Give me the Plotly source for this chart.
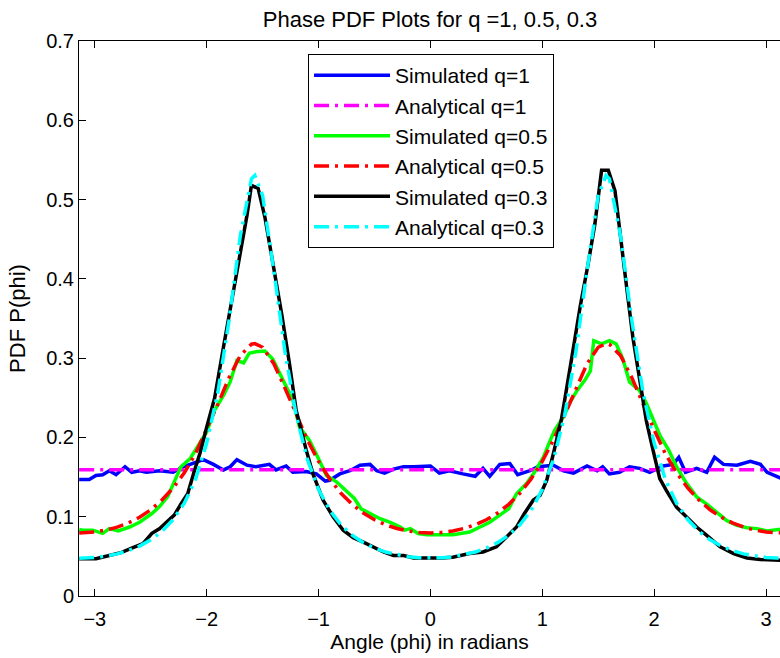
import plotly.graph_objects as go

# ---------------- data ----------------
phi_sim1 = [-3.14, -3.05, -2.99, -2.93, -2.87, -2.81, -2.73, -2.67, -2.60, -2.54, -2.42, -2.30,
            -2.21, -2.12, -2.03, -1.94, -1.85, -1.79, -1.73, -1.64, -1.56, -1.44, -1.38, -1.29,
            -1.23, -1.11, -1.02, -0.94, -0.90, -0.81, -0.72, -0.63, -0.54, -0.48, -0.41, -0.33,
            -0.24, -0.15, -0.07, 0.00, 0.08, 0.17, 0.29, 0.40, 0.47, 0.53, 0.62, 0.71, 0.78,
            0.89, 0.96, 1.10, 1.19, 1.28, 1.40, 1.49, 1.54, 1.60, 1.69, 1.78, 1.87, 1.96, 2.08,
            2.17, 2.22, 2.28, 2.38, 2.47, 2.54, 2.62, 2.74, 2.86, 2.95, 3.01, 3.11, 3.14]
sim_q1 = [0.147, 0.147, 0.152, 0.153, 0.158, 0.153, 0.163, 0.156, 0.158, 0.156, 0.158, 0.156,
          0.163, 0.167, 0.172, 0.166, 0.159, 0.163, 0.172, 0.165, 0.163, 0.166, 0.159, 0.164,
          0.156, 0.157, 0.154, 0.145, 0.146, 0.154, 0.158, 0.165, 0.166, 0.158, 0.155, 0.160,
          0.163, 0.163, 0.163, 0.164, 0.155, 0.158, 0.154, 0.151, 0.161, 0.151, 0.166, 0.167,
          0.153, 0.158, 0.163, 0.165, 0.158, 0.155, 0.164, 0.158, 0.163, 0.154, 0.156, 0.163,
          0.161, 0.156, 0.164, 0.166, 0.175, 0.156, 0.161, 0.156, 0.175, 0.166, 0.165, 0.170,
          0.166, 0.156, 0.150, 0.148]

phi_sim05 = [-3.14, -3.11, -3.02, -2.93, -2.87, -2.79, -2.69, -2.60, -2.49, -2.42, -2.35, -2.29,
             -2.23, -2.15, -2.08, -2.00, -1.93, -1.85, -1.79, -1.73, -1.67, -1.62, -1.56, -1.48,
             -1.41, -1.32, -1.23, -1.17, -1.08, -1.00, -0.93, -0.84, -0.75, -0.68, -0.62, -0.54,
             -0.45, -0.36, -0.27, -0.23, -0.18, -0.11, -0.03, 0.08, 0.20, 0.35, 0.44, 0.53, 0.62,
             0.70, 0.77, 0.86, 0.93, 1.01, 1.07, 1.11, 1.19, 1.25, 1.31, 1.38, 1.43, 1.46, 1.53,
             1.60, 1.66, 1.72, 1.78, 1.87, 1.93, 1.99, 2.05, 2.13, 2.20, 2.29, 2.38, 2.47, 2.56,
             2.65, 2.74, 2.83, 2.92, 3.01, 3.11, 3.14]
sim_q05 = [0.084, 0.083, 0.083, 0.079, 0.085, 0.082, 0.087, 0.093, 0.104, 0.113, 0.125, 0.144,
           0.163, 0.173, 0.188, 0.207, 0.234, 0.253, 0.270, 0.297, 0.294, 0.306, 0.308, 0.309,
           0.299, 0.274, 0.247, 0.213, 0.196, 0.173, 0.152, 0.144, 0.133, 0.123, 0.110, 0.104,
           0.0975, 0.093, 0.087, 0.083, 0.085, 0.0787, 0.0774, 0.0774, 0.0774, 0.0807, 0.087,
           0.093, 0.102, 0.110, 0.129, 0.142, 0.156, 0.175, 0.196, 0.209, 0.226, 0.245, 0.259,
           0.272, 0.284, 0.322, 0.318, 0.322, 0.318, 0.299, 0.270, 0.259, 0.243, 0.224, 0.203,
           0.184, 0.163, 0.142, 0.125, 0.116, 0.106, 0.095, 0.089, 0.086, 0.085, 0.082, 0.084,
           0.084]

phi_sim03 = [-3.14, -3.12, -2.99, -2.87, -2.76, -2.66, -2.57, -2.49, -2.42, -2.36, -2.29, -2.23,
             -2.17, -2.11, -2.06, -2.00, -1.93, -1.85, -1.76, -1.69, -1.64, -1.60, -1.54, -1.48,
             -1.41, -1.33, -1.26, -1.20, -1.11, -1.05, -0.96, -0.87, -0.78, -0.69, -0.60, -0.51,
             -0.42, -0.33, -0.24, -0.15, -0.07, 0.02, 0.10, 0.20, 0.35, 0.47, 0.59, 0.68, 0.77,
             0.84, 0.92, 0.98, 1.04, 1.10, 1.17, 1.25, 1.34, 1.41, 1.47, 1.53, 1.59, 1.65, 1.69,
             1.75, 1.81, 1.87, 1.93, 1.99, 2.05, 2.11, 2.20, 2.29, 2.38, 2.47, 2.59, 2.71, 2.83,
             2.95, 3.07, 3.14]
sim_q03 = [0.047, 0.047, 0.047, 0.051, 0.055, 0.061, 0.066, 0.079, 0.085, 0.093, 0.102, 0.116,
           0.129, 0.158, 0.180, 0.213, 0.249, 0.314, 0.385, 0.436, 0.480, 0.518, 0.514, 0.478,
           0.423, 0.356, 0.293, 0.234, 0.184, 0.154, 0.121, 0.100, 0.083, 0.0736, 0.068, 0.062,
           0.0555, 0.051, 0.051, 0.048, 0.048, 0.047, 0.048, 0.049, 0.0535, 0.0555, 0.062,
           0.0744, 0.087, 0.104, 0.121, 0.127, 0.146, 0.180, 0.222, 0.289, 0.366, 0.419, 0.469,
           0.537, 0.537, 0.511, 0.461, 0.394, 0.326, 0.272, 0.221, 0.184, 0.148, 0.133, 0.112,
           0.0996, 0.087, 0.0765, 0.062, 0.0535, 0.048, 0.046, 0.045, 0.045]

phi_ana = [-3.14, -3.1, -3.0, -2.9, -2.8, -2.7, -2.6, -2.5, -2.4, -2.3, -2.2, -2.1, -2.0, -1.9,
           -1.8, -1.7, -1.6, -1.57, -1.5, -1.4, -1.3, -1.2, -1.1, -1.0, -0.9, -0.8, -0.7, -0.6,
           -0.5, -0.4, -0.3, -0.2, -0.1, 0.0, 0.1, 0.2, 0.3, 0.4, 0.5, 0.6, 0.7, 0.8, 0.9, 1.0,
           1.1, 1.2, 1.3, 1.4, 1.5, 1.57, 1.6, 1.7, 1.8, 1.9, 2.0, 2.1, 2.2, 2.3, 2.4, 2.5, 2.6,
           2.7, 2.8, 2.9, 3.0, 3.1, 3.14]
ana_q1 = [0.1592] * 67
ana_q05 = [0.0796, 0.0797, 0.0808, 0.0831, 0.0869, 0.0922, 0.0994, 0.1088, 0.1210, 0.1363,
           0.1554, 0.1796, 0.2095, 0.2420, 0.2755, 0.3032, 0.3176, 0.3183, 0.3137, 0.2930,
           0.2621, 0.2284, 0.1969, 0.1698, 0.1475, 0.1296, 0.1156, 0.1046, 0.0962, 0.0898,
           0.0852, 0.0820, 0.0802, 0.0796, 0.0802, 0.0820, 0.0852, 0.0898, 0.0962, 0.1046,
           0.1156, 0.1296, 0.1475, 0.1698, 0.1969, 0.2284, 0.2621, 0.2930, 0.3137, 0.3183,
           0.3176, 0.3032, 0.2755, 0.2420, 0.2095, 0.1796, 0.1554, 0.1363, 0.1210, 0.1088,
           0.0994, 0.0922, 0.0869, 0.0831, 0.0808, 0.0797, 0.0796]
ana_q03 = [0.0477, 0.0478, 0.0486, 0.0503, 0.0531, 0.0573, 0.0630, 0.0708, 0.0816, 0.0964,
           0.1170, 0.1471, 0.1929, 0.2570, 0.3479, 0.4540, 0.5261, 0.5305, 0.5050, 0.4106,
           0.3078, 0.2279, 0.1722, 0.1343, 0.1081, 0.0898, 0.0767, 0.0673, 0.0604, 0.0554,
           0.0519, 0.0495, 0.0482, 0.0477, 0.0482, 0.0495, 0.0519, 0.0554, 0.0604, 0.0673,
           0.0767, 0.0898, 0.1081, 0.1343, 0.1722, 0.2279, 0.3078, 0.4106, 0.5050, 0.5305,
           0.5261, 0.4540, 0.3479, 0.2570, 0.1929, 0.1471, 0.1170, 0.0964, 0.0816, 0.0708,
           0.0630, 0.0573, 0.0531, 0.0503, 0.0486, 0.0478, 0.0477]

x_ticks = [-3, -2, -1, 0, 1, 2, 3]
y_ticks = [0, 0.1, 0.2, 0.3, 0.4, 0.5, 0.6, 0.7]
y_tick_text = ["0", "0.1", "0.2", "0.3", "0.4", "0.5", "0.6", "0.7"]

# ---------------- figure ----------------
FONT = "Liberation Sans, Arial, Helvetica, sans-serif"
DASHDOT = "15px,6px,3px,6px"
LW = 3.5

series = [
    ("Simulated q=1", phi_sim1, sim_q1, "#0000ff", "solid"),
    ("Analytical q=1", phi_ana, ana_q1, "#ff00ff", DASHDOT),
    ("Simulated q=0.5", phi_sim05, sim_q05, "#00ff00", "solid"),
    ("Analytical q=0.5", phi_ana, ana_q05, "#ff0000", DASHDOT),
    ("Simulated q=0.3", phi_sim03, sim_q03, "#000000", "solid"),
    ("Analytical q=0.3", phi_ana, ana_q03, "#00ffff", DASHDOT),
]

fig = go.Figure()
for name, xs, ys, color, dash in series:
    fig.add_trace(go.Scatter(x=xs, y=ys, mode="lines", name=name,
                             line=dict(color=color, width=LW, dash=dash)))

fig.update_layout(
    width=780, height=658,
    margin=dict(l=79, r=0, t=41, b=62),
    paper_bgcolor="white", plot_bgcolor="white",
    font=dict(family=FONT, size=20, color="black"),
    title=dict(text="Phase PDF Plots for q =1, 0.5, 0.3", x=0.5007, xref="paper",
               xanchor="center", y=1 - 19 / 658, yref="container", yanchor="middle",
               font=dict(size=22, color="black", family=FONT)),
    showlegend=True,
    legend=dict(x=0.3267, y=0.9766, xanchor="left", yanchor="top",
                bordercolor="black", borderwidth=1, bgcolor="white",
                font=dict(size=21, family=FONT, color="black"),
                tracegroupgap=0, itemwidth=76),
    xaxis=dict(range=[-3.1416, 3.125], tickvals=x_ticks, ticks="inside", ticklen=7,
               tickwidth=1, tickcolor="black", showline=True, linecolor="black",
               linewidth=1, mirror="ticks", showgrid=False, zeroline=False,
               ticklabelstandoff=5,
               title=dict(text="Angle (phi) in radians", standoff=2,
                          font=dict(size=21, family=FONT)),
               tickfont=dict(size=20, family=FONT)),
    yaxis=dict(range=[0, 0.7], tickvals=y_ticks, ticktext=y_tick_text, ticks="inside",
               ticklen=7, tickwidth=1, tickcolor="black", showline=True,
               linecolor="black", linewidth=1, mirror=False, showgrid=False,
               zeroline=False,
               title=dict(text="PDF P(phi)", standoff=14, font=dict(size=22, family=FONT)),
               tickfont=dict(size=20, family=FONT)),
    yaxis2=dict(range=[0, 0.7], tickvals=y_ticks, ticks="inside", ticklen=7, tickwidth=1,
                tickcolor="black", showline=False, showgrid=False, zeroline=False,
                showticklabels=False, overlaying="y", side="right", anchor="x"),
)

fig.write_html("out.html")
